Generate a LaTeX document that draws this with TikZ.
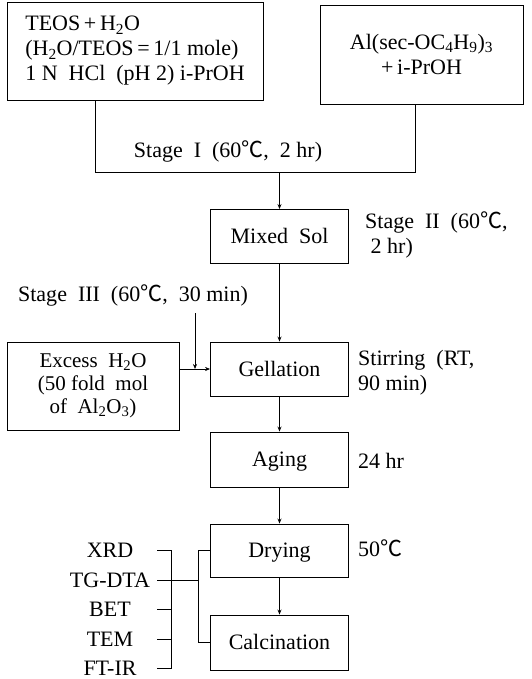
\documentclass[tikz,border=0pt]{standalone}
\usepackage{fontspec}
\setmainfont{Liberation Serif}
\newfontfamily\cjk{Noto Sans CJK KR}
\usetikzlibrary{arrows.meta, positioning}
\newcommand{\degC}{{\cjk ℃}}

\tikzset{
  procbox/.style={draw, line width=0.9pt, minimum width=138pt, minimum height=54pt, inner sep=2pt},
  oneline/.style={procbox, text height=17pt, text depth=3pt},
  flow/.style={line width=0.8pt, -{Stealth[length=5pt, width=4pt]}},
  thinflow/.style={line width=0.6pt, -{Stealth[length=5pt, width=4pt]}},
  link/.style={line width=0.8pt},
  note/.style={anchor=west, align=left, inner sep=2pt},
}

\begin{document}
\begin{tikzpicture}[x=1pt, y=-1pt, font=\fontsize{22}{25}\selectfont]
    \useasboundingbox (0,0) rectangle (531,679);

    % Starting solutions
    \node[procbox, minimum width=256pt, minimum height=98pt, align=left] (teos) at (135,51)
        {TEOS\,+\,H\textsubscript{2}O\\(H\textsubscript{2}O/TEOS\,=\,1/1 mole)\\1 N\ \ HCl\ \ (pH 2) i-PrOH};
    \node[procbox, minimum width=203pt, minimum height=99pt, align=center] (alk) at (421.5,54.5)
        {Al(sec-OC\textsubscript{4}H\textsubscript{9})\textsubscript{3}\\+\,i-PrOH};

    % Main process
    \node[oneline] (mixed) at (279.5,236.5) {Mixed\ \ Sol};
    \node[oneline] (gel) at (279.5,369) {Gellation};
    \node[oneline, minimum height=55pt] (aging) at (279.5,459.5) {Aging};
    \node[oneline, minimum height=53pt] (drying) at (279.5,550.5) {Drying};
    \node[oneline, minimum height=55pt] (calc) at (279.5,642.5) {Calcination};

    % Water addition
    \node[procbox, minimum width=172pt, minimum height=88pt, align=center,
          font=\fontsize{21}{23}\selectfont] (excess) at (93,386)
        {Excess\ \ H\textsubscript{2}O\\(50 fold\ \ mol\\of\ \ Al\textsubscript{2}O\textsubscript{3})};

    % Conditions
    \node (st1) at (228,151) {Stage\ \ I\ \ (60\degC,\ \ 2 hr)};
    \node[note] (st2) at (363,235) {Stage\ \ II\ \ (60\degC,\\\ 2 hr)};
    \node (st3) at (133,295) {Stage\ \ III\ \ (60\degC,\ \ 30 min)};
    \node[note] (stir) at (356,373) {Stirring\ \ (RT,\\ 90 min)};
    \node[note] (age) at (356,461) {24 hr};
    \node[note] (dry) at (356,548) {50\degC};

    % Analyses
    \foreach \name/\txt/\y in {xrd/XRD/550, tg/TG-DTA/580, bet/BET/609, tem/TEM/639, ftir/FT-IR/668}
        \node[inner sep=0pt] (\name) at (110,\y) {\txt};

    % Connectors
    \coordinate (stA) at (95,172);
    \coordinate (stB) at (415,172);
    \draw[link] (teos.south -| stA) -- (stA) -- (stB) -- (alk.south -| stB);
    \draw[flow] (stA -| mixed) -- (mixed.north);
    \draw[flow] (mixed) -- (gel);
    \draw[flow] (gel) -- (aging);
    \draw[flow] (aging) -- (drying);
    \draw[flow] (drying) -- (calc);

    \coordinate (s3) at (195,313);
    \draw[thinflow] (s3) -- (s3 |- gel.west);
    \draw[thinflow] (excess.east |- gel.west) -- (gel.west);

    \coordinate (tick) at (157,0);
    \coordinate (brace) at (171,0);
    \coordinate (fork) at (198,0);
    \draw[link] (xrd.east -| tick) -- (xrd.east -| brace) -- (ftir.east -| brace) -- (ftir.east -| tick);
    \foreach \name in {bet, tem}
        \draw[link] (\name.east -| tick) -- (\name.east -| brace);
    \draw[link] (tg.east -| tick) -- (tg.east -| fork);
    \draw[link] (drying.west) -- (drying.west -| fork) -- (calc.west -| fork) -- (calc.west);
\end{tikzpicture}
\end{document}
